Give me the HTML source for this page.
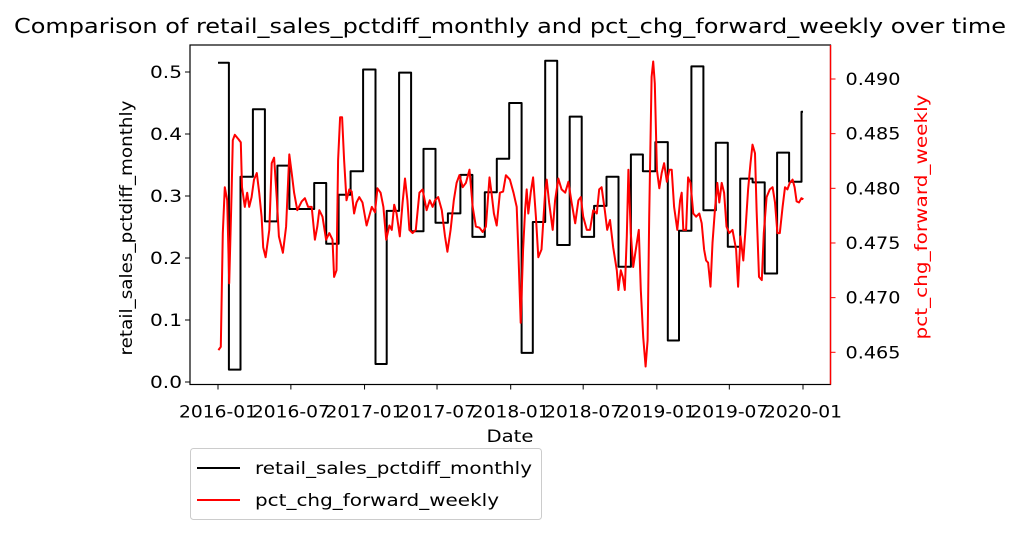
<!DOCTYPE html>
<html><head><meta charset="utf-8"><style>
html,body{margin:0;padding:0;background:#fff;}
svg{display:block;font-family:"DejaVu Sans","Liberation Sans",sans-serif;}
</style></head><body>
<svg id="chart" width="1021" height="534" viewBox="0 0 1021 534" xmlns="http://www.w3.org/2000/svg">
<text x="510" y="33" font-size="20" text-anchor="middle" textLength="992" lengthAdjust="spacingAndGlyphs">Comparison of retail_sales_pctdiff_monthly and pct_chg_forward_weekly over time</text>
<g id="plot"></g>
<text transform="translate(132,228) rotate(-90)" font-size="17" text-anchor="middle" textLength="255" lengthAdjust="spacingAndGlyphs">retail_sales_pctdiff_monthly</text>
<text transform="translate(927,217) rotate(-90)" font-size="17" fill="#ff0000" text-anchor="middle" textLength="245" lengthAdjust="spacingAndGlyphs">pct_chg_forward_weekly</text>
<text x="510" y="442" font-size="17" text-anchor="middle" textLength="47" lengthAdjust="spacingAndGlyphs">Date</text>
<g>
<rect x="190.5" y="448.5" width="351" height="71" rx="3" fill="#fff" stroke="#cccccc"/>
<line x1="197" y1="468" x2="240" y2="468" stroke="#000" stroke-width="2"/>
<text x="255" y="474" font-size="17" textLength="277" lengthAdjust="spacingAndGlyphs">retail_sales_pctdiff_monthly</text>
<line x1="197" y1="500" x2="240" y2="500" stroke="#ff0000" stroke-width="2"/>
<text x="255" y="506" font-size="17" textLength="244" lengthAdjust="spacingAndGlyphs">pct_chg_forward_weekly</text>
</g>
</svg>
<script>
const monthlyValues=[0.515,0.02,0.331,0.44,0.259,0.349,0.279,0.279,0.321,0.223,0.302,0.340,0.504,0.029,0.276,0.499,0.243,0.376,0.257,0.272,0.334,0.234,0.306,0.360,0.450,0.047,0.258,0.518,0.221,0.428,0.234,0.284,0.331,0.186,0.367,0.340,0.387,0.067,0.244,0.509,0.277,0.386,0.218,0.328,0.322,0.175,0.370,0.323,0.436];
const weeklyDays=[1,7,12,17,23,28,34,37,42,51,57,60,67,73,78,84,90,97,103,109,113,119,128,134,140,147,152,162,170,178,184,190,198,209,217,225,234,242,248,253,261,270,278,286,290,296,300,305,310,315,321,328,334,340,346,353,361,371,384,392,398,406,413,420,428,434,440,446,454,461,467,473,478,486,494,503,511,521,529,536,542,550,559,567,573,581,589,596,603,611,619,628,636,644,653,661,669,678,683,689,696,704,712,719,729,738,746,750,756,762,767,771,775,781,787,794,800,808,817,821,827,836,842,850,858,867,875,883,892,900,906,912,921,929,937,946,952,958,966,972,979,987,996,1000,1006,1011,1016,1021,1025,1031,1037,1046,1051,1056,1062,1068,1073,1077,1083,1087,1091,1096,1102,1108,1114,1121,1127,1133,1139,1147,1154,1158,1162,1169,1174,1180,1187,1194,1202,1208,1214,1219,1224,1230,1235,1241,1247,1252,1258,1264,1270,1277,1285,1294,1299,1305,1312,1318,1324,1330,1335,1341,1345,1351,1358,1363,1370,1378,1385,1391,1397,1403,1410,1416,1422,1428,1435,1440,1445,1451,1457,1462];
const weeklyValues=[0.4652,0.4655,0.4759,0.4801,0.4789,0.4713,0.4796,0.4844,0.4849,0.4845,0.4842,0.4801,0.4783,0.4796,0.4783,0.4792,0.4808,0.4814,0.4796,0.4774,0.4746,0.4737,0.4762,0.4823,0.4828,0.4789,0.4756,0.4741,0.4765,0.4831,0.4814,0.4796,0.4780,0.4788,0.4791,0.4783,0.4783,0.4753,0.4765,0.4780,0.4774,0.4753,0.4759,0.4753,0.4719,0.4725,0.4826,0.4865,0.4865,0.4826,0.4789,0.4799,0.4797,0.4777,0.4787,0.4792,0.4787,0.4766,0.4783,0.4778,0.4800,0.4796,0.4783,0.4753,0.4766,0.4762,0.4785,0.4777,0.4756,0.4787,0.4809,0.4789,0.4762,0.4759,0.4762,0.4796,0.4799,0.4780,0.4789,0.4783,0.4789,0.4792,0.4780,0.4756,0.4742,0.4762,0.4789,0.4805,0.4812,0.4801,0.4805,0.4817,0.4783,0.4765,0.4764,0.4760,0.4765,0.4810,0.4796,0.4777,0.4766,0.4796,0.4797,0.4812,0.4808,0.4796,0.4783,0.4744,0.4677,0.4744,0.4780,0.4799,0.4777,0.4796,0.4810,0.4774,0.4737,0.4744,0.4796,0.4808,0.4787,0.4762,0.4789,0.4809,0.4799,0.4796,0.4806,0.4787,0.4768,0.4789,0.4792,0.4774,0.4762,0.4762,0.4780,0.4777,0.4799,0.4801,0.4780,0.4762,0.4771,0.4746,0.4725,0.4707,0.4725,0.4719,0.4707,0.4756,0.4817,0.4759,0.4728,0.4750,0.4762,0.4707,0.4664,0.4637,0.4661,0.4774,0.4902,0.4916,0.4896,0.4817,0.4800,0.4814,0.4823,0.4806,0.4817,0.4817,0.4783,0.4762,0.4789,0.4796,0.4762,0.4762,0.4810,0.4805,0.4777,0.4774,0.4777,0.4768,0.4744,0.4734,0.4732,0.4710,0.4750,0.4780,0.4805,0.4787,0.4805,0.4796,0.4765,0.4759,0.4762,0.4744,0.4710,0.4756,0.4734,0.4765,0.4799,0.4823,0.4840,0.4832,0.4780,0.4719,0.4716,0.4759,0.4792,0.4799,0.4801,0.4787,0.4759,0.4759,0.4783,0.4801,0.4799,0.4805,0.4808,0.4801,0.4788,0.4787,0.4791,0.4790];
const xTickLabels=["2016-01","2016-07","2017-01","2017-07","2018-01","2018-07","2019-01","2019-07","2020-01"];
const leftTicks=[0.0,0.1,0.2,0.3,0.4,0.5];
const rightTicks=[0.465,0.470,0.475,0.480,0.485,0.490];

const NS="http://www.w3.org/2000/svg";
const g=document.getElementById('plot');
const L=190,R=830.5,T=45,B=384.5;
const base=Date.UTC(2016,0,1);
function dayOf(y,m){return (Date.UTC(y,m,1)-base)/86400000;}
function xS(d){return 218+d*(585/1461);}
function yL(v){return 382-v*620;}
function yR(v){return 352.3-(v-0.465)*(54.66/0.005);}
function el(t,a){const e=document.createElementNS(NS,t);for(const k in a)e.setAttribute(k,a[k]);g.appendChild(e);return e;}

const frame=el('rect',{x:L,y:T,width:R-L,height:B-T,fill:'none',stroke:'#000','stroke-width':1.2});


const rs=el('line',{x1:R,y1:T,x2:R,y2:B,stroke:'#ff0000','stroke-width':1.4});



xTickLabels.forEach(lab=>{
  const [yy,mm]=lab.split('-').map(Number);
  const x=xS(dayOf(yy,mm-1));
  el('line',{x1:x,y1:B,x2:x,y2:B+5,stroke:'#000'});
  const t=el('text',{x:x,y:B+33,'font-size':17,'text-anchor':'middle',textLength:78,lengthAdjust:'spacingAndGlyphs'});
  t.textContent=lab;
  
  
});
leftTicks.forEach(v=>{
  const y=yL(v);
  el('line',{x1:L-5,y1:y,x2:L,y2:y,stroke:'#000'});
  const t=el('text',{x:L-8,y:y+6,'font-size':17,'text-anchor':'end',textLength:32,lengthAdjust:'spacingAndGlyphs'});
  t.textContent=v.toFixed(1);
  
  
});
rightTicks.forEach(v=>{
  const y=yR(v);
  el('line',{x1:R,y1:y,x2:R+5,y2:y,stroke:'#ff0000'});
  const t=el('text',{x:R+15,y:y+6,'font-size':17,'text-anchor':'start',textLength:55,lengthAdjust:'spacingAndGlyphs'});
  t.textContent=v.toFixed(3);
  
  
});

let d='';
monthlyValues.forEach((v,i)=>{
  const x0=xS(dayOf(2016,i))-1.5, x1=i<monthlyValues.length-1?xS(dayOf(2016,i+1))-1.5:x0+1.5;
  const y=yL(v);
  d+=(i===0?'M':'L')+(i===0?x0+1.5:x0).toFixed(1)+','+y.toFixed(1)+'L'+x1.toFixed(1)+','+y.toFixed(1);
});
const bl=el('path',{d:d,fill:'none',stroke:'#000','stroke-width':2,'stroke-linejoin':'round'});



let d2='';
weeklyDays.forEach((dd,i)=>{d2+=(i===0?'M':'L')+xS(dd).toFixed(1)+','+yR(weeklyValues[i]).toFixed(1);});
const rl=el('path',{d:d2,fill:'none',stroke:'#ff0000','stroke-width':2,'stroke-linejoin':'round'});


</script>
</body></html>
